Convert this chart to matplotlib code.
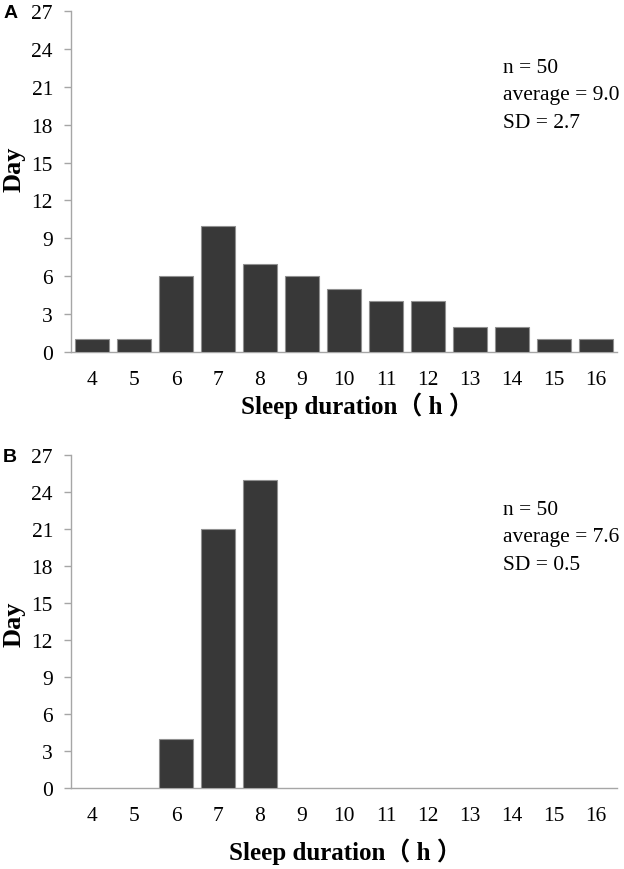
import matplotlib
matplotlib.use("Agg")
import matplotlib.pyplot as plt
import numpy as np

hours = [4, 5, 6, 7, 8, 9, 10, 11, 12, 13, 14, 15, 16]
days_a = [1, 1, 6, 10, 7, 6, 5, 4, 4, 2, 2, 1, 1]
days_b = [0, 0, 4, 21, 25, 0, 0, 0, 0, 0, 0, 0, 0]
yticks = [0, 3, 6, 9, 12, 15, 18, 21, 24, 27]
stats_a = ["n = 50", "average = 9.0", "SD = 2.7"]
stats_b = ["n = 50", "average = 7.6", "SD = 0.5"]
panel_labels = ["A", "B"]

plt.rcParams['font.family'] = ['Liberation Serif', 'Noto Sans CJK SC']

fig = plt.figure(figsize=(6.24, 8.70), dpi=100)
W, H = 624, 870

def make_ax(left, right, top, bottom):
    return fig.add_axes([left / W, 1 - bottom / H, (right - left) / W, (bottom - top) / H])

axA = make_ax(71, 617, 12, 353)
axB = make_ax(71, 617, 456, 789)

spine_col = '#a6a6a6'
layout = [
    (axA, days_a, stats_a, panel_labels[0], (0.524, -0.155), (-0.104, 0.54)),
    (axB, days_b, stats_b, panel_labels[1], (0.502, -0.189), (-0.104, 0.495)),
]
for ax, vals, stats, lab, xlc, ylc in layout:
    x = np.arange(len(hours))
    bars = ax.bar(x, vals, width=0.81, color='#383838', edgecolor='#909090', linewidth=0.8, zorder=3)
    for b, v in zip(bars, vals):
        if v == 0:
            b.set_visible(False)
    ax.set_xlim(-0.5, len(hours) - 0.5)
    ax.set_ylim(0, 27)
    ax.set_yticks(yticks)
    ax.set_xticks(x)
    ax.set_xticklabels([str(h) for h in hours])
    for s in ['top', 'right']:
        ax.spines[s].set_visible(False)
    for s in ['left', 'bottom']:
        ax.spines[s].set_color(spine_col)
        ax.spines[s].set_linewidth(1.0)
    ax.tick_params(axis='y', length=5, width=1.0, color=spine_col, pad=8, labelsize=15.5)
    ax.tick_params(axis='x', length=0, pad=13, labelsize=15.5)
    ax.set_ylabel('Day', fontsize=19, fontweight='bold')
    ax.yaxis.set_label_coords(*ylc)
    ax.yaxis.label.set_va('center')
    ax.set_xlabel('Sleep duration（ h ）', fontsize=18, fontweight='bold')
    ax.xaxis.set_label_coords(*xlc)
    ax.xaxis.label.set_va('center')
    ax.text(0.791, 0.754, "\n".join(stats), transform=ax.transAxes, fontsize=15.5,
            va='center', ha='left', linespacing=1.6)
    ax.text(-0.1245, 0.995, lab, transform=ax.transAxes, fontsize=14, fontweight='bold',
            family='Liberation Sans', va='center', ha='left')

fig.savefig('out.png', dpi=100)
